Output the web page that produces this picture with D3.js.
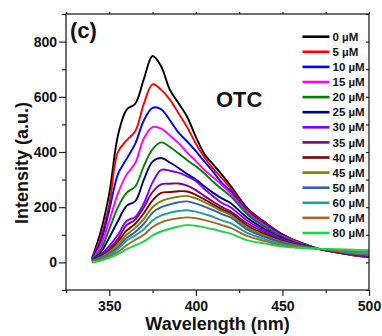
<!DOCTYPE html>
<html>
<head>
<meta charset="utf-8">
<script src="https://cdn.jsdelivr.net/npm/d3@7"></script>
<style>
  html, body { margin: 0; padding: 0; background: #fff; }
  svg { display: block; font-family: "Liberation Sans", Arial, sans-serif; font-weight: bold; }
</style>
</head>
<body>
<svg id="chart" width="382" height="336"></svg>
<script>
/* ── Data ──────────────────────────────────────────────── */
const wavelengths = [340, 345, 350, 355, 360, 365, 370, 375, 380, 385, 390, 395, 400,
                     405, 410, 415, 420, 430, 440, 450, 460, 470, 480, 490, 500];

const concLabels = ['0 µM', '5 µM', '10 µM', '15 µM', '20 µM', '25 µM', '30 µM',
                    '35 µM', '40 µM', '45 µM', '50 µM', '60 µM', '70 µM', '80 µM'];

const colors = ['#000000', '#ff0000', '#0000ff', '#ff00ff', '#008000', '#000080', '#8000ff',
                '#800080', '#800000', '#808000', '#3262a0', '#1f9e9e', '#a8652a', '#1ed24a'];

const c0  = [15, 110, 250, 460, 553, 575, 665, 748, 710, 625, 577, 527, 455, 392, 355, 318, 278, 195, 145, 102, 73, 51, 37, 27, 19];
const c5  = [14, 90, 210, 400, 442, 475, 575, 645, 625, 590, 540, 490, 430, 380, 340, 305, 268, 190, 142, 100, 72, 51, 37, 27, 18];
const c10 = [12, 75, 190, 320, 375, 430, 515, 560, 555, 515, 470, 438, 403, 365, 328, 288, 258, 185, 138, 98, 71, 51, 38, 28, 20];
const c15 = [10, 60, 150, 250, 318, 360, 450, 490, 485, 460, 432, 398, 367, 335, 308, 280, 250, 180, 133, 95, 70, 50, 38, 28, 21];
const c20 = [9, 45, 120, 200, 252, 275, 350, 410, 435, 418, 395, 370, 348, 322, 292, 265, 240, 172, 128, 92, 68, 50, 39, 29, 22];
const c25 = [8, 35, 90, 150, 205, 222, 300, 365, 378, 362, 342, 320, 300, 275, 252, 232, 215, 160, 120, 88, 66, 50, 39, 29, 22];
const c30 = [7, 28, 60, 100, 150, 165, 215, 290, 335, 332, 325, 312, 295, 265, 240, 215, 200, 150, 114, 84, 64, 50, 40, 30, 23];
const c35 = [6, 25, 50, 85, 135, 155, 200, 255, 283, 285, 286, 278, 262, 240, 220, 200, 185, 140, 108, 80, 63, 50, 40, 30, 24];
const c40 = [5, 20, 42, 75, 115, 140, 178, 225, 252, 255, 258, 257, 245, 228, 210, 192, 178, 132, 102, 77, 61, 50, 41, 31, 25];
const c45 = [5, 18, 38, 65, 100, 125, 158, 200, 222, 232, 238, 241, 232, 218, 202, 186, 172, 125, 97, 74, 60, 50, 42, 32, 27];
const c50 = [4, 15, 32, 55, 88, 110, 140, 180, 200, 210, 218, 221, 213, 202, 189, 175, 163, 118, 92, 71, 58, 50, 43, 34, 29];
const c60 = [3, 12, 27, 48, 78, 98, 120, 152, 170, 180, 186, 189, 184, 175, 165, 152, 142, 106, 84, 66, 56, 50, 44, 36, 32];
const c70 = [2, 9, 22, 38, 62, 82, 100, 128, 145, 155, 160, 163, 160, 153, 145, 135, 125, 95, 77, 61, 54, 50, 46, 41, 38];
const c80 = [0, 6, 16, 30, 48, 62, 76, 98, 112, 122, 130, 135, 133, 127, 120, 112, 104, 80, 68, 57, 52, 50, 48, 46, 45];

const series = [c0, c5, c10, c15, c20, c25, c30, c35, c40, c45, c50, c60, c70, c80];

const xMajor = [350, 400, 450, 500];
const xMinor = [325, 375, 425, 475];
const yMajor = [0, 200, 400, 600, 800];
const yMinor = [-100, 100, 300, 500, 700, 900];

/* ── Layout ─────────────────────────────────────────────── */
const L = 66, R = 369, T = 14, B = 290;

const svg = d3.select('#chart');

const x = d3.scaleLinear().domain([325, 500]).range([L, R]);
const y = d3.scaleLinear().domain([-100, 900]).range([B, T]);

/* ── Curves ─────────────────────────────────────────────── */
const line = d3.line()
  .x((d, i) => x(wavelengths[i]))
  .y(d => y(d))
  .curve(d3.curveCatmullRom.alpha(0.5));

svg.append('g')
  .selectAll('path')
  .data(series)
  .enter()
  .append('path')
  .attr('d', line)
  .attr('fill', 'none')
  .attr('stroke', (d, i) => colors[i])
  .attr('stroke-width', 1.9)
  .attr('stroke-linejoin', 'round');

/* ── Axes ───────────────────────────────────────────────── */
function styleAxis(g) {
  g.select('.domain').remove();
  g.selectAll('line').attr('stroke', '#222').attr('stroke-width', 1.2);
  g.selectAll('text').attr('fill', '#111').style('font-size', '14px')
    .style('font-family', '"Liberation Sans", Arial, sans-serif').style('font-weight', 'bold');
}

svg.append('g').attr('transform', `translate(0,${B})`)
  .call(d3.axisBottom(x).tickValues(xMajor).tickSize(6).tickPadding(5).tickFormat(d3.format('d')))
  .call(styleAxis);
svg.append('g').attr('transform', `translate(0,${B})`)
  .call(d3.axisBottom(x).tickValues(xMinor).tickSize(3).tickFormat(''))
  .call(styleAxis);

svg.append('g').attr('transform', `translate(${L},0)`)
  .call(d3.axisLeft(y).tickValues(yMajor).tickSize(7).tickPadding(2).tickFormat(d3.format('d')))
  .call(styleAxis);
svg.append('g').attr('transform', `translate(${L},0)`)
  .call(d3.axisLeft(y).tickValues(yMinor).tickSize(4).tickFormat(''))
  .call(styleAxis);

// top and right frame ticks
svg.append('g').attr('transform', `translate(0,${T})`)
  .call(d3.axisTop(x).tickValues(xMajor.concat(xMinor)).tickSize(2).tickFormat(''))
  .call(styleAxis);
svg.append('g').attr('transform', `translate(${R},0)`)
  .call(d3.axisRight(y).tickValues(yMajor.concat(yMinor)).tickSize(-3).tickFormat(''))
  .call(styleAxis);

svg.append('rect')
  .attr('x', L).attr('y', T).attr('width', R - L).attr('height', B - T)
  .attr('fill', 'none').attr('stroke', '#222').attr('stroke-width', 1.3);

/* ── Titles & labels ────────────────────────────────────── */
svg.append('text')
  .attr('x', (L + R) / 2).attr('y', 330)
  .attr('text-anchor', 'middle').style('font-size', '18px').attr('fill', '#111')
  .text('Wavelength (nm)');

svg.append('text')
  .attr('transform', 'translate(28,163) rotate(-90)')
  .attr('text-anchor', 'middle').style('font-size', '18px').attr('fill', '#111')
  .text('Intensity (a.u.)');

svg.append('text')
  .attr('x', 70).attr('y', 38).style('font-size', '22px').attr('fill', '#111')
  .text('(c)');

svg.append('text')
  .attr('x', 216).attr('y', 107).style('font-size', '22px').attr('fill', '#111')
  .text('OTC');

/* ── Legend ─────────────────────────────────────────────── */
const legend = svg.append('g')
  .selectAll('g')
  .data(concLabels)
  .enter()
  .append('g')
  .attr('transform', (d, i) => `translate(0,${36.7 + i * 15.1})`);

legend.append('line')
  .attr('x1', 302.5).attr('x2', 329.5)
  .attr('stroke', (d, i) => colors[i])
  .attr('stroke-width', 2.6);

legend.append('text')
  .attr('x', 332.5).attr('dy', '0.36em')
  .style('font-size', '11.5px').attr('fill', '#111')
  .text(d => d);
</script>
</body>
</html>
